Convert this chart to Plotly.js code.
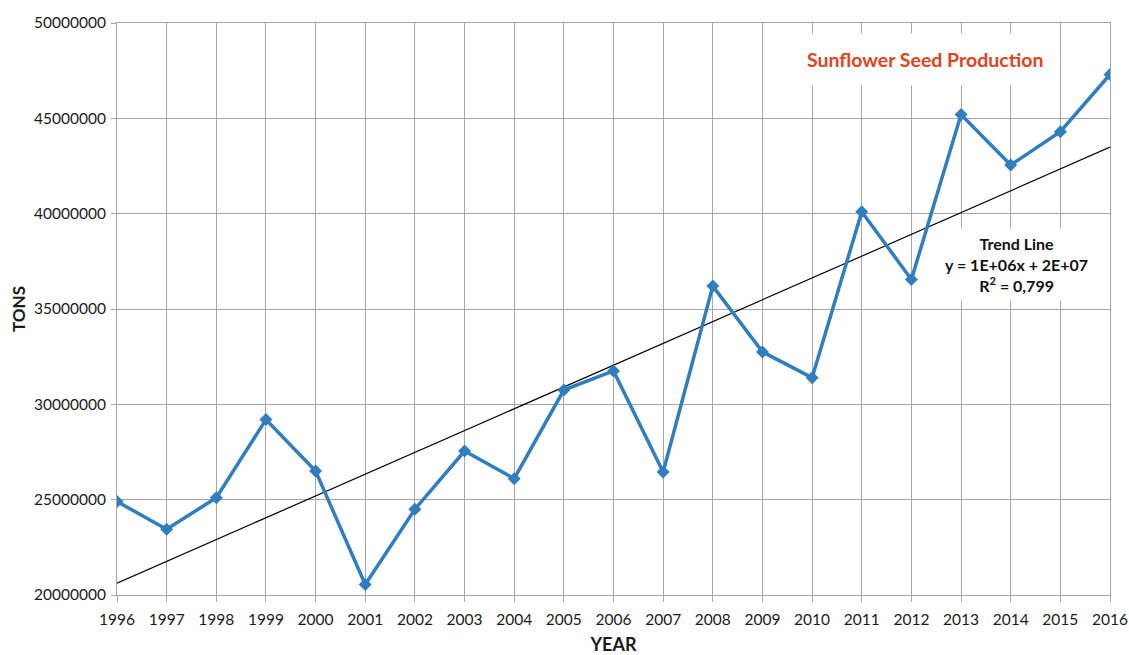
<!DOCTYPE html>
<html>
<head>
<meta charset="utf-8">
<script src="https://cdn.plot.ly/plotly-3.0.1.min.js"></script>
<style>html,body{margin:0;padding:0;background:#fff;}#chart{width:1129px;height:655px;}</style>
</head>
<body>
<div id="chart"></div>
<script>
const years = [1996,1997,1998,1999,2000,2001,2002,2003,2004,2005,2006,2007,2008,2009,2010,2011,2012,2013,2014,2015,2016];
const tons = [24900000,23450000,25100000,29200000,26500000,20550000,24500000,27550000,26100000,30750000,31750000,26450000,36200000,32750000,31400000,40100000,36550000,45200000,42550000,44300000,47300000];
const yTicks = [20000000,25000000,30000000,35000000,40000000,45000000,50000000];
const chartTitle = 'Sunflower Seed Production';
const trendText = '<b>Trend Line<br>y = 1E+06x + 2E+07<br>R<sup>2</sup> = 0,799</b>';

// least-squares trend from the data
const n = years.length;
const mx = years.reduce((a,b)=>a+b,0)/n;
const my = tons.reduce((a,b)=>a+b,0)/n;
let sxy=0, sxx=0;
for(let i=0;i<n;i++){sxy+=(years[i]-mx)*(tons[i]-my); sxx+=(years[i]-mx)**2;}
const slope = sxy/sxx, icpt = my - slope*mx;
const trendX = [years[0], years[n-1]];
const trendY = trendX.map(x=>icpt+slope*x);

const font = 'Lato, "Open Sans", sans-serif';
const data = [
  {x: trendX, y: trendY, mode:'lines', line:{color:'#000', width:1.2}, hoverinfo:'skip', showlegend:false},
  {x: years, y: tons, mode:'lines+markers', line:{color:'#2f7ebf', width:3.5},
   marker:{symbol:'diamond', size:10, color:'#2f7ebf'}, showlegend:false}
];
const layout = {
  width:1129, height:655,
  margin:{l:117, r:19, t:23, b:60},
  paper_bgcolor:'#fff', plot_bgcolor:'#fff',
  font:{family:font, size:15.5, color:'#1a1a1a'},
  xaxis:{
    range:[1996,2016], tickvals:years, ticktext:years.map(String),
    showgrid:true, gridcolor:'#a6a6a6', gridwidth:1,
    showline:true, linecolor:'#a6a6a6', linewidth:1, mirror:true,
    ticks:'outside', ticklen:6, tickcolor:'#a6a6a6', ticklabelstandoff:4,
    zeroline:false, tickfont:{size:15.5},
    title:{text:'<b>YEAR</b>', font:{size:18, color:'#1a1a1a'}, standoff:15}
  },
  yaxis:{
    range:[20000000,50000000], tickvals:yTicks, ticktext:yTicks.map(String),
    showgrid:true, gridcolor:'#a6a6a6', gridwidth:1,
    showline:true, linecolor:'#a6a6a6', linewidth:1, mirror:true,
    ticks:'outside', ticklen:5, tickcolor:'#a6a6a6', ticklabelstandoff:2,
    zeroline:false, tickfont:{size:15.5},
    title:{text:'<b>TONS</b>', font:{size:17, color:'#1a1a1a'}, standoff:4}
  },
  annotations:[
    {xref:'paper', yref:'paper', x:0.814, y:0.937, xanchor:'center', yanchor:'middle',
     text:'<b>'+chartTitle+'</b>', showarrow:false, bgcolor:'#fff',
     font:{size:19.5, color:'#e2421c', family:font}, borderpad:14},
    {xref:'paper', yref:'paper', x:0.906, y:0.577, xanchor:'center', yanchor:'middle',
     text:trendText, showarrow:false, bgcolor:'#fff', align:'center',
     font:{size:16, color:'#111', family:font}, borderpad:5}
  ]
};
Plotly.newPlot('chart', data, layout, {displayModeBar:false, staticPlot:true});
</script>
</body>
</html>
